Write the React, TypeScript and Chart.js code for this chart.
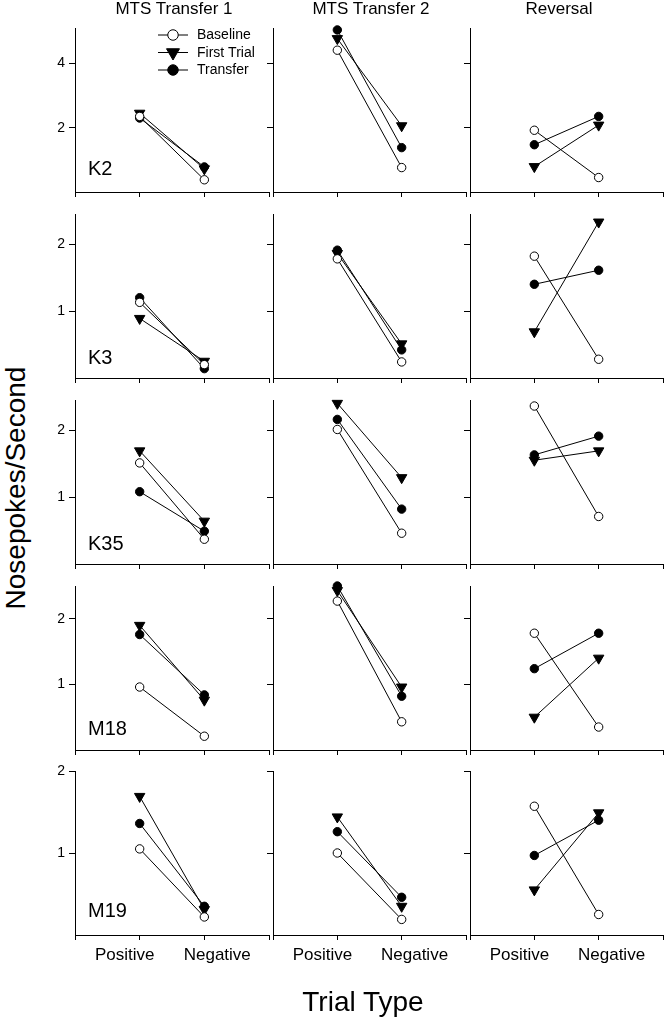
import React, { useEffect, useRef } from 'react';
import { Chart, registerables } from 'chart.js';

Chart.register(...registerables);

// ---------------- data ----------------
const subjects = ['K2', 'K3', 'K35', 'M18', 'M19'];
const phases = ['MTS Transfer 1', 'MTS Transfer 2', 'Reversal'];
const trialTypes = ['Positive', 'Negative'];
const seriesNames = ['Baseline', 'First Trial', 'Transfer'];

// [subject][phase] = [Positive, Negative]
const baseline = [
  [[2.35, 0.38], [4.41, 0.76], [1.92, 0.45]],
  [[1.13, 0.2], [1.78, 0.24], [1.82, 0.28]],
  [[1.51, 0.37], [2.01, 0.46], [2.36, 0.71]],
  [[0.96, 0.21], [2.27, 0.43], [1.78, 0.35]],
  [[1.05, 0.22], [1.0, 0.19], [1.57, 0.25]],
];
const firstTrial = [
  [[2.45, 0.72], [4.77, 2.06], [0.79, 2.08]],
  [[0.89, 0.25], [1.86, 0.51], [0.69, 2.33]],
  [[1.69, 0.64], [2.4, 1.29], [1.55, 1.69]],
  [[1.9, 0.76], [2.43, 0.96], [0.5, 1.4]],
  [[1.69, 0.31], [1.44, 0.35], [0.55, 1.49]],
];
const transfer = [
  [[2.3, 0.78], [5.04, 1.38], [1.47, 2.35]],
  [[1.2, 0.14], [1.91, 0.42], [1.4, 1.61]],
  [[1.08, 0.49], [2.16, 0.82], [1.63, 1.91]],
  [[1.76, 0.84], [2.5, 0.82], [1.24, 1.78]],
  [[1.36, 0.35], [1.26, 0.46], [0.97, 1.4]],
];

const yMax = [5.1, 2.45, 2.45, 2.5, 2];
const yTicks = [[2, 4], [1, 2], [1, 2], [1, 2], [1, 2]];

// ---------------- layout / style ----------------
const FONT = "'Liberation Sans', Arial, Helvetica, sans-serif";
const colX = [75, 273, 470];
const colW = [198, 197, 197];
const rowTop = [28, 214, 400, 586, 771];
const panelH = 164;
const YW = 40; // y axis box width
const PT = 16;
const PB = 10;
const PR = 3;
const XH = 5; // x tick axis height
const XLH = 40; // x label axis height
const labelBaseline = [175, 364, 550, 735, 917];
const titleCenters = [174, 371, 559];
const xLabelShift = [-0.23, 0.2];

Chart.defaults.font.family = FONT;
Chart.defaults.color = '#000';

function drawMarker(ctx: CanvasRenderingContext2D, k: number, x: number, y: number, s: number) {
  ctx.save();
  ctx.beginPath();
  if (k === 1) {
    const r = 6 * s;
    ctx.moveTo(x, y + r);
    ctx.lineTo(x - r * 0.866, y - r * 0.5);
    ctx.lineTo(x + r * 0.866, y - r * 0.5);
    ctx.closePath();
  } else {
    ctx.arc(x, y, 4.2 * s, 0, Math.PI * 2);
  }
  ctx.fillStyle = k === 0 ? '#fff' : '#000';
  ctx.fill();
  ctx.strokeStyle = '#000';
  ctx.lineWidth = 1;
  ctx.stroke();
  ctx.restore();
}

const legendPlugin = {
  id: 'panelLegend',
  afterDatasetsDraw(chart: any) {
    const { ctx, chartArea } = chart;
    seriesNames.forEach((name, k) => {
      const y = chartArea.top + 7 + k * 17.5;
      const l = chartArea.left;
      ctx.save();
      ctx.strokeStyle = '#000';
      ctx.lineWidth = 1;
      ctx.beginPath();
      ctx.moveTo(l + 83, y);
      ctx.lineTo(l + 113, y);
      ctx.stroke();
      drawMarker(ctx, k, l + 98, y, 1.25);
      ctx.fillStyle = '#000';
      ctx.font = `14px ${FONT}`;
      ctx.textBaseline = 'middle';
      ctx.textAlign = 'left';
      ctx.fillText(name, l + 122, y + 0.5);
      ctx.restore();
    });
  },
};

function Panel({ r, c }: { r: number; c: number }) {
  const ref = useRef<HTMLCanvasElement>(null);
  const isBottom = r === subjects.length - 1;
  const w = YW + colW[c] + PR;
  const h = PT + panelH + XH + (isBottom ? XLH : 0) + PB;
  useEffect(() => {
    const series = [baseline, firstTrial, transfer];
    const styles = ['circle', 'triangle', 'circle'];
    const rots = [0, 180, 0];
    const radii = [4.2, 6, 4.2];
    const fills = ['#fff', '#000', '#000'];
    const datasets = series.map((s, k) => ({
      label: seriesNames[k],
      data: s[r][c].map((v, i) => ({ x: i + 1, y: v })),
      xAxisID: 'x',
      yAxisID: 'y',
      borderColor: '#000',
      borderWidth: 1,
      pointStyle: styles[k],
      pointRotation: rots[k],
      pointRadius: radii[k],
      pointHoverRadius: radii[k],
      pointBackgroundColor: fills[k],
      pointBorderColor: '#000',
      pointBorderWidth: 1,
      fill: false,
      tension: 0,
      clip: false,
    }));
    const scales: any = {
      x: {
        type: 'linear',
        min: 0,
        max: 3,
        position: 'bottom',
        weight: 0,
        afterBuildTicks: (a: any) => {
          a.ticks = [0, 1, 2, 3].map((v) => ({ value: v }));
        },
        ticks: { display: false },
        grid: { drawOnChartArea: false, drawTicks: true, tickLength: 5, color: '#000', lineWidth: 1 },
        border: { display: true, color: '#000', width: 1 },
        afterFit: (a: any) => {
          a.height = XH;
        },
      },
      y: {
        type: 'linear',
        min: 0,
        max: yMax[r],
        position: 'left',
        afterBuildTicks: (a: any) => {
          a.ticks = yTicks[r].map((v) => ({ value: v }));
        },
        ticks: { display: c === 0, color: '#000', font: { size: 14, family: FONT }, padding: 4 },
        grid: { drawOnChartArea: false, drawTicks: true, tickLength: 6, color: '#000', lineWidth: 1 },
        border: { display: true, color: '#000', width: 1 },
        afterFit: (a: any) => {
          a.width = YW;
        },
      },
    };
    if (isBottom) {
      scales.xl = {
        type: 'linear',
        min: 0,
        max: 3,
        position: 'bottom',
        weight: 1,
        afterBuildTicks: (a: any) => {
          a.ticks = trialTypes.map((_, i) => ({ value: i + 1 + xLabelShift[i] }));
        },
        ticks: {
          callback: (_v: any, i: number) => trialTypes[i],
          color: '#000',
          font: { size: 17, family: FONT },
          padding: 5,
          autoSkip: false,
          maxRotation: 0,
          minRotation: 0,
        },
        grid: { display: false, drawTicks: false },
        border: { display: false },
        afterFit: (a: any) => {
          a.height = XLH;
        },
      };
    }
    const chart = new Chart(ref.current as HTMLCanvasElement, {
      type: 'line',
      data: { datasets } as any,
      options: {
        animation: false,
        responsive: false,
        devicePixelRatio: 1,
        layout: { padding: { top: PT, left: 0, right: PR, bottom: PB } },
        plugins: { legend: { display: false }, tooltip: { enabled: false } },
        events: [],
        scales,
      } as any,
      plugins: r === 0 && c === 0 ? [legendPlugin] : [],
    });
    return () => chart.destroy();
  }, [r, c]);
  return (
    <canvas
      ref={ref}
      width={w}
      height={h}
      style={{ position: 'absolute', left: colX[c] - YW, top: rowTop[r] - PT, width: w, height: h }}
    />
  );
}

export default function App() {
  return (
    <div
      style={{
        position: 'absolute',
        left: 0,
        top: 0,
        width: 668,
        height: 1020,
        background: '#fff',
        fontFamily: FONT,
        color: '#000',
        overflow: 'hidden',
      }}
    >
      {subjects.map((_, r) => phases.map((__, c) => <Panel key={`${r}-${c}`} r={r} c={c} />))}
      {phases.map((p, c) => (
        <div
          key={p}
          style={{
            position: 'absolute',
            left: titleCenters[c] - 100,
            width: 200,
            top: -1,
            fontSize: 17,
            lineHeight: '20px',
            textAlign: 'center',
            whiteSpace: 'nowrap',
          }}
        >
          {p}
        </div>
      ))}
      {subjects.map((s, r) => (
        <div
          key={s}
          style={{
            position: 'absolute',
            left: 88,
            top: labelBaseline[r] - 19,
            fontSize: 20,
            lineHeight: '24px',
            whiteSpace: 'nowrap',
          }}
        >
          {s}
        </div>
      ))}
      <div
        style={{
          position: 'absolute',
          left: 16 - 160,
          top: 488 - 17,
          width: 320,
          height: 34,
          lineHeight: '34px',
          fontSize: 28,
          textAlign: 'center',
          transform: 'rotate(-90deg)',
          whiteSpace: 'nowrap',
        }}
      >
        Nosepokes/Second
      </div>
      <div
        style={{
          position: 'absolute',
          left: 363 - 150,
          width: 300,
          top: 986,
          lineHeight: '32px',
          fontSize: 28,
          textAlign: 'center',
          whiteSpace: 'nowrap',
        }}
      >
        Trial Type
      </div>
    </div>
  );
}
